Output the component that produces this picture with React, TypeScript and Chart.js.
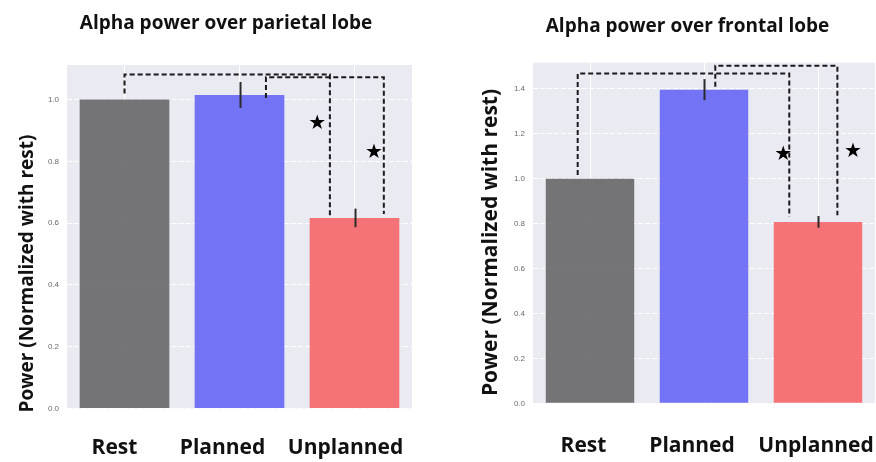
import React, { useEffect, useRef } from 'react';
import { Chart, registerables } from 'chart.js';

Chart.register(...registerables);

// ---------- data ----------
const categories = ['Rest', 'Planned', 'Unplanned'];

const parietalTitle = 'Alpha power over parietal lobe';
const parietalMeans = [1.0, 1.015, 0.617];
const parietalErrors = [0, 0.042, 0.03];
const parietalYMax = 1.112;

const frontalTitle = 'Alpha power over frontal lobe';
const frontalMeans = [1.0, 1.397, 0.808];
const frontalErrors = [0, 0.047, 0.026];
const frontalYMax = 1.517;

const yAxisLabel = 'Power (Normalized with rest)';
const yTickStep = 0.2;

// significance brackets: [xStart, yStart, yTop, xEnd, yEnd] (category index / value units)
const parietalBrackets = [
  [0.0, 1.02, 1.081, 1.786, 0.62],
  [1.23, 1.005, 1.072, 2.255, 0.63],
];
const parietalStars = [
  [1.676, 0.922],
  [2.17, 0.828],
];
const frontalBrackets = [
  [-0.108, 1.017, 1.469, 1.748, 0.831],
  [1.099, 1.41, 1.503, 2.17, 0.838],
];
const frontalStars = [
  [1.694, 1.106],
  [2.306, 1.118],
];

const barColors = ['rgba(103,103,105,0.9)', 'rgba(102,102,245,0.9)', 'rgba(246,102,105,0.9)'];

type PanelCfg = {
  title: string;
  titleX: number;
  titleBaseline: number;
  titleSize: number;
  means: number[];
  errors: number[];
  yMax: number;
  brackets: number[][];
  stars: number[][];
  width: number;
  padLeft: number;
  padTop: number;
  padRight: number;
  yAxisWidth: number;
  xAxisHeight: number;
  yTitleSize: number;
  yTitleX: number;
  yTitleY: number;
  labelShift: number[];
  labelBaseline: number;
  barPct: number;
};

function makeDecor(cfg: PanelCfg) {
  return {
    id: 'decor',
    beforeDraw(chart: any) {
      const { ctx, chartArea: a } = chart;
      ctx.save();
      ctx.fillStyle = '#EAEAF2';
      ctx.fillRect(a.left, a.top, a.right - a.left, a.bottom - a.top);
      ctx.restore();
    },
    afterDatasetsDraw(chart: any) {
      const { ctx } = chart;
      const xs = chart.scales.x;
      const ys = chart.scales.y;
      ctx.save();
      // error bars
      ctx.strokeStyle = '#2a2a2a';
      ctx.lineWidth = 2;
      cfg.means.forEach((m, i) => {
        const e = cfg.errors[i];
        if (!e) return;
        const px = Math.round(xs.getPixelForValue(i)) + 0.5;
        ctx.beginPath();
        ctx.moveTo(px, ys.getPixelForValue(m - e));
        ctx.lineTo(px, ys.getPixelForValue(m + e));
        ctx.stroke();
      });
      // significance brackets
      ctx.strokeStyle = '#1a1a1a';
      ctx.lineWidth = 2;
      ctx.setLineDash([5, 3]);
      cfg.brackets.forEach(([x0, y0, yt, x1, y1]) => {
        ctx.beginPath();
        ctx.moveTo(xs.getPixelForValue(x0), ys.getPixelForValue(y0));
        ctx.lineTo(xs.getPixelForValue(x0), ys.getPixelForValue(yt));
        ctx.lineTo(xs.getPixelForValue(x1), ys.getPixelForValue(yt));
        ctx.lineTo(xs.getPixelForValue(x1), ys.getPixelForValue(y1));
        ctx.stroke();
      });
      ctx.setLineDash([]);
      // stars
      ctx.fillStyle = '#000';
      ctx.font = '20px "DejaVu Sans"';
      ctx.textAlign = 'center';
      ctx.textBaseline = 'middle';
      cfg.stars.forEach(([sx, sy]) => {
        ctx.fillText('\u2605', xs.getPixelForValue(sx), ys.getPixelForValue(sy));
      });
      ctx.restore();
    },
    afterDraw(chart: any) {
      const { ctx } = chart;
      const xs = chart.scales.x;
      ctx.save();
      ctx.fillStyle = '#111';
      // chart title
      ctx.font = `bold ${cfg.titleSize}px "Open Sans"`;
      ctx.textAlign = 'center';
      ctx.textBaseline = 'alphabetic';
      ctx.fillText(cfg.title, cfg.titleX, cfg.titleBaseline);
      // category labels
      ctx.font = 'bold 21px "Open Sans"';
      categories.forEach((c, i) => {
        ctx.fillText(c, xs.getPixelForValue(i) + cfg.labelShift[i], cfg.labelBaseline);
      });
      // y axis title
      ctx.translate(cfg.yTitleX, cfg.yTitleY);
      ctx.rotate(-Math.PI / 2);
      ctx.font = `bold ${cfg.yTitleSize}px "Open Sans"`;
      ctx.textBaseline = 'middle';
      ctx.fillText(yAxisLabel, 0, 0);
      ctx.restore();
    },
  };
}

function BarPanel({ cfg, left }: { cfg: PanelCfg; left: number }) {
  const ref = useRef<HTMLCanvasElement | null>(null);
  useEffect(() => {
    if (!ref.current) return;
    const chart = new Chart(ref.current, {
      type: 'bar',
      data: {
        labels: categories,
        datasets: [
          {
            data: cfg.means,
            backgroundColor: barColors,
            borderWidth: 0,
            barPercentage: cfg.barPct,
            categoryPercentage: 1,
          },
        ],
      },
      options: {
        responsive: false,
        animation: false,
        devicePixelRatio: 1,
        layout: { padding: { left: cfg.padLeft, top: cfg.padTop, right: cfg.padRight, bottom: 0 } },
        plugins: { legend: { display: false }, title: { display: false }, tooltip: { enabled: false } },
        scales: {
          x: {
            type: 'category',
            grid: { display: true, offset: false, color: '#ffffff', lineWidth: 1, drawTicks: false },
            border: { display: false },
            ticks: { display: false, autoSkip: false },
            afterFit: (s: any) => {
              s.height = cfg.xAxisHeight;
              s.paddingLeft = 0;
              s.paddingRight = 0;
            },
          },
          y: {
            type: 'linear',
            min: 0,
            max: cfg.yMax,
            grid: { color: '#ffffff', lineWidth: 1, drawTicks: false },
            border: { display: false, dash: [5, 2] },
            ticks: {
              stepSize: yTickStep,
              includeBounds: false,
              color: '#6a6a6a',
              padding: 8,
              font: { family: 'Liberation Sans', size: 8 },
              callback: (v: any) => Number(v).toFixed(1),
            },
            afterFit: (s: any) => {
              s.width = cfg.yAxisWidth;
            },
          },
        },
      } as any,
      plugins: [makeDecor(cfg)],
    });
    return () => chart.destroy();
  }, [cfg]);
  return (
    <canvas
      ref={ref}
      width={cfg.width}
      height={462}
      style={{ position: 'absolute', left, top: 0, width: cfg.width, height: 462 }}
    />
  );
}

const parietalCfg: PanelCfg = {
  title: parietalTitle,
  titleX: 226,
  titleBaseline: 29,
  titleSize: 19,
  means: parietalMeans,
  errors: parietalErrors,
  yMax: parietalYMax,
  brackets: parietalBrackets,
  stars: parietalStars,
  width: 440,
  padLeft: 17,
  padTop: 65,
  padRight: 28,
  yAxisWidth: 50,
  xAxisHeight: 53.5,
  yTitleSize: 19,
  yTitleX: 28,
  yTitleY: 273.5,
  labelShift: [-10, -17, -9],
  labelBaseline: 454,
  barPct: 0.78,
};

const frontalCfg: PanelCfg = {
  title: frontalTitle,
  titleX: 247.5,
  titleBaseline: 31.5,
  titleSize: 19,
  means: frontalMeans,
  errors: frontalErrors,
  yMax: frontalYMax,
  brackets: frontalBrackets,
  stars: frontalStars,
  width: 436,
  padLeft: 38,
  padTop: 62.7,
  padRight: 1,
  yAxisWidth: 55,
  xAxisHeight: 58.7,
  yTitleSize: 21,
  yTitleX: 51,
  yTitleY: 242.5,
  labelShift: [-6.5, -12, -2],
  labelBaseline: 451.5,
  barPct: 0.776,
};

export default function App() {
  return (
    <div style={{ position: 'absolute', left: 0, top: 0, width: 876, height: 462, background: '#fff', overflow: 'hidden' }}>
      <BarPanel cfg={parietalCfg} left={0} />
      <BarPanel cfg={frontalCfg} left={440} />
    </div>
  );
}
